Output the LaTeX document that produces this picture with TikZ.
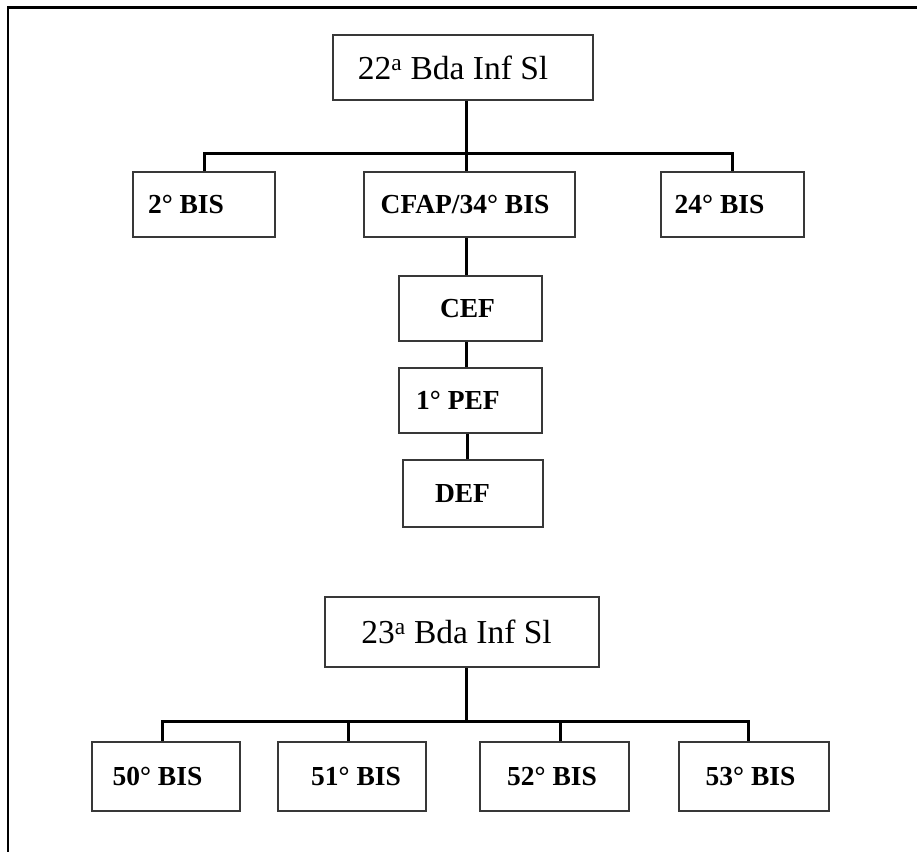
\documentclass[tikz,border=0pt]{standalone}
\usepackage{fontspec}
\setmainfont{Liberation Serif}
\newcommand{\offtext}[2]{\makebox[0pt]{\hspace*{#1}#2}}
\begin{document}
\begin{tikzpicture}[x=1pt,y=-1pt,
  box/.style={draw=black!78,line width=2pt,fill=white,inner sep=0pt},
  big/.style={box,font=\fontsize{33.5}{36}\selectfont},
  unit/.style={box,font=\bfseries\fontsize{27.5}{30}\selectfont},
  conn/.style={line width=3pt,black},
  frame/.style={line width=2.5pt,black}]
\useasboundingbox (0,0) rectangle (917,852);
\draw[frame,line width=3pt] (917,7) -- (8,7);
\draw[frame,line width=2pt] (8,6) -- (8,852);
% top tree
\node[big,minimum width=260pt,minimum height=65pt] (b22) at (463,67.5) {\offtext{-20pt}{22\textsuperscript{a} Bda Inf Sl}};
\node[unit,minimum width=142pt,minimum height=65pt] (u2) at (204,204.5) {\offtext{-36pt}{2° BIS}};
\node[unit,minimum width=211pt,minimum height=65pt] (u34) at (469.5,204.5) {\offtext{-9pt}{CFAP/34° BIS}};
\node[unit,minimum width=143pt,minimum height=65pt] (u24) at (732.5,204.5) {\offtext{-26pt}{24° BIS}};
\node[unit,minimum width=143pt,minimum height=65pt] (cef) at (470.5,308.5) {\offtext{-6pt}{CEF}};
\node[unit,minimum width=143pt,minimum height=65pt] (pef) at (470.5,400.5) {\offtext{-25pt}{1° PEF}};
\node[unit,minimum width=140pt,minimum height=67pt] (def) at (473,493.5) {\offtext{-21pt}{DEF}};
\coordinate (j1) at (466,153);
\draw[conn] (b22.south -| j1) -- (j1);
\draw[conn] (u2.north) -- (u2.north |- j1) -- (u24.north |- j1) -- (u24.north);
\draw[conn] (j1) -- (u34.north -| j1);
\draw[conn] (u34.south -| j1) -- (cef.north -| j1);
\draw[conn] (cef.south -| j1) -- (pef.north -| j1);
\draw[conn] (pef.south -| 467,0) -- (def.north -| 467,0);
% bottom tree
\node[big,minimum width=274pt,minimum height=70pt] (b23) at (462,632) {\offtext{-11pt}{23\textsuperscript{a} Bda Inf Sl}};
\node[unit,minimum width=148pt,minimum height=69pt] (u50) at (166,776) {\offtext{-17pt}{50° BIS}};
\node[unit,minimum width=148pt,minimum height=69pt] (u51) at (351.5,776) {\offtext{9pt}{51° BIS}};
\node[unit,minimum width=149pt,minimum height=69pt] (u52) at (554.5,776) {\offtext{-5pt}{52° BIS}};
\node[unit,minimum width=150pt,minimum height=69pt] (u53) at (754,776) {\offtext{-7pt}{53° BIS}};
\coordinate (j2) at (466,721);
\draw[conn] (b23.south -| j2) -- (j2);
\draw[conn] (u50.north -| 162,0) -- (162,721) -- (748,721) -- (u53.north -| 748,0);
\draw[conn] (348,721) -- (u51.north -| 348,0);
\draw[conn] (560,721) -- (u52.north -| 560,0);
\end{tikzpicture}
\end{document}
